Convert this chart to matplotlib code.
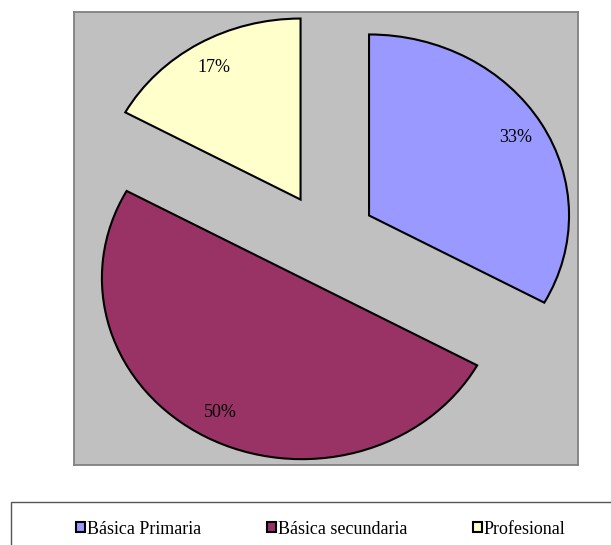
import matplotlib
matplotlib.use("Agg")
import matplotlib.pyplot as plt
from matplotlib.patches import Rectangle

categories = ["Básica Primaria", "Básica secundaria", "Profesional"]
values = [33, 50, 17]
colors = ["#9999FF", "#993366", "#FFFFCC"]

plt.rcParams['font.family'] = ['Liberation Serif', 'DejaVu Serif']

W, H = 611, 545
fig = plt.figure(figsize=(W / 100, H / 100), dpi=100)

# plot area (pixels): x 74-578, y 12-465
ax = fig.add_axes([74 / W, (H - 465) / H, 504 / W, 453 / H])
ax.set_facecolor("#C0C0C0")

wedges, texts, autotexts = ax.pie(
    values, colors=colors, startangle=90, counterclock=False,
    explode=[0.25, 0.25, 0.25], autopct='%1.0f%%', pctdistance=0.85,
    wedgeprops=dict(edgecolor='black', linewidth=1.5),
    textprops=dict(fontsize=13, color='black'), frame=True)

ax.set_aspect('auto')
rx, ry = 200.0, 181.0
ax.set_xlim(-504 / rx / 2, 504 / rx / 2)
ax.set_ylim(-453 / ry / 2, 453 / ry / 2)
ax.set_xticks([])
ax.set_yticks([])
for s in ax.spines.values():
    s.set_edgecolor("#808080")
    s.set_linewidth(1.3)

# legend box (extends beyond the figure edges)
fig.patches.append(Rectangle((11 / W, -0.2), 1.2, 0.2 + (H - 502) / H,
                             transform=fig.transFigure, facecolor='white',
                             edgecolor='#555555', linewidth=1.0, zorder=0))

fig.legend(wedges, categories, loc='center left',
           bbox_to_anchor=(76 / W, (H - 529) / H), bbox_transform=fig.transFigure,
           ncol=3, frameon=False, fontsize=13, borderpad=0, borderaxespad=0,
           handlelength=0.5, handleheight=0.5, handletextpad=0.1,
           columnspacing=3.65)

fig.savefig("out.png", dpi=100)
